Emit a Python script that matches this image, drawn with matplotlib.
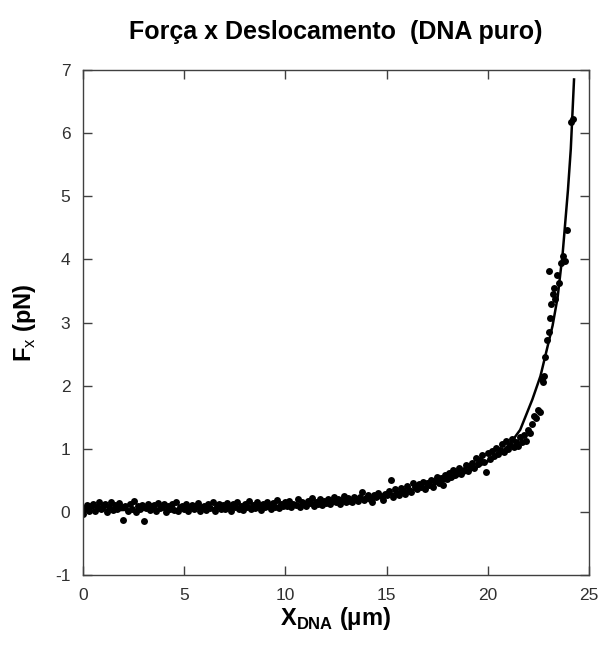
import matplotlib
matplotlib.use("Agg")
import matplotlib.pyplot as plt

plt.rcParams['font.family'] = ['Liberation Sans', 'DejaVu Sans']
plt.rcParams['mathtext.fontset'] = 'custom'
plt.rcParams['mathtext.rm'] = 'Liberation Sans'
plt.rcParams['mathtext.bf'] = 'Liberation Sans:bold'
plt.rcParams['axes.unicode_minus'] = False

# pontos medidos (deslocamento em um, forca em pN)
x_base = [0.00, 0.10, 0.20, 0.30, 0.40, 0.50, 0.60, 0.70, 0.80, 0.90,
          1.00, 1.10, 1.20, 1.30, 1.40, 1.50, 1.60, 1.70, 1.80, 1.90,
          2.00, 2.10, 2.20, 2.30, 2.40, 2.50, 2.60, 2.70, 2.80, 2.90,
          3.00, 3.10, 3.20, 3.30, 3.40, 3.50, 3.60, 3.70, 3.80, 3.90,
          4.00, 4.10, 4.20, 4.30, 4.40, 4.50, 4.60, 4.70, 4.80, 4.90,
          5.00, 5.10, 5.20, 5.30, 5.40, 5.50, 5.60, 5.70, 5.80, 5.90]
y_base = [-0.03, 0.06, 0.11, 0.02, 0.09, 0.13, 0.01, 0.07, 0.15, 0.04,
          0.10, 0.12, 0.00, 0.08, 0.16, 0.03, 0.11, 0.05, 0.14, 0.07,
          -0.13, 0.09, 0.02, 0.12, 0.05, 0.17, 0.00, 0.10, 0.04, 0.11,
          -0.15, 0.06, 0.13, 0.03, 0.09, 0.11, 0.02, 0.14, 0.06, 0.08,
          0.12, 0.00, 0.09, 0.05, 0.12, 0.03, 0.15, 0.02, 0.08, 0.10,
          0.05, 0.13, 0.01, 0.07, 0.11, 0.04, 0.09, 0.14, 0.02, 0.08]

x_mid = [6.00, 6.10, 6.20, 6.30, 6.40, 6.50, 6.60, 6.70, 6.80, 6.90,
         7.00, 7.10, 7.20, 7.30, 7.40, 7.50, 7.60, 7.70, 7.80, 7.90,
         8.00, 8.10, 8.20, 8.30, 8.40, 8.50, 8.60, 8.70, 8.80, 8.90,
         9.00, 9.10, 9.20, 9.30, 9.40, 9.50, 9.60, 9.70, 9.80, 9.90,
         10.00, 10.10, 10.20, 10.30, 10.40, 10.50, 10.60, 10.70, 10.80, 10.90,
         11.00, 11.10, 11.20, 11.30, 11.40, 11.50, 11.60, 11.70, 11.80, 11.90]
y_mid = [0.10, 0.03, 0.12, 0.06, 0.15, 0.01, 0.09, 0.13, 0.05, 0.11,
         0.04, 0.14, 0.08, 0.02, 0.12, 0.07, 0.16, 0.05, 0.10, 0.03,
         0.13, 0.08, 0.17, 0.04, 0.11, 0.06, 0.15, 0.09, 0.03, 0.13,
         0.07, 0.16, 0.10, 0.05, 0.14, 0.08, 0.19, 0.06, 0.12, 0.10,
         0.15, 0.09, 0.18, 0.07, 0.13, 0.11, 0.20, 0.08, 0.16, 0.12,
         0.10, 0.18, 0.14, 0.22, 0.09, 0.16, 0.13, 0.20, 0.11, 0.17]

x_rise = [12.00, 12.10, 12.20, 12.30, 12.40, 12.50, 12.60, 12.70, 12.80, 12.90,
          13.00, 13.10, 13.20, 13.30, 13.40, 13.50, 13.60, 13.70, 13.80, 13.90,
          14.00, 14.10, 14.20, 14.30, 14.40, 14.50, 14.60, 14.70, 14.80, 14.90,
          15.00, 15.10, 15.20, 15.30, 15.40, 15.50, 15.60, 15.70, 15.80, 15.90,
          16.00, 16.10, 16.20, 16.30, 16.40, 16.50, 16.60, 16.70, 16.80, 16.90,
          17.00, 17.10, 17.20, 17.30, 17.40, 17.50, 17.60, 17.70, 17.80, 17.90]
y_rise = [0.14, 0.20, 0.12, 0.18, 0.23, 0.15, 0.21, 0.13, 0.19, 0.25,
          0.16, 0.22, 0.18, 0.15, 0.24, 0.20, 0.17, 0.23, 0.32, 0.19,
          0.22, 0.27, 0.21, 0.16, 0.26, 0.23, 0.30, 0.25, 0.19, 0.29,
          0.27, 0.33, 0.50, 0.24, 0.36, 0.30, 0.27, 0.38, 0.33, 0.29,
          0.41, 0.35, 0.32, 0.46, 0.39, 0.36, 0.44, 0.40, 0.48, 0.37,
          0.45, 0.43, 0.51, 0.40, 0.49, 0.55, 0.46, 0.53, 0.42, 0.58]

x_knee = [18.00, 18.10, 18.20, 18.30, 18.40, 18.50, 18.60, 18.70, 18.80, 18.90,
          19.00, 19.10, 19.20, 19.30, 19.40, 19.50, 19.60, 19.70, 19.80, 19.90,
          20.00, 20.10, 20.20, 20.30, 20.40, 20.50, 20.60, 20.70, 20.80, 20.90,
          21.00, 21.10, 21.20, 21.30, 21.40]
y_knee = [0.52, 0.61, 0.55, 0.66, 0.58, 0.63, 0.70, 0.60, 0.67, 0.74,
          0.65, 0.72, 0.78, 0.69, 0.85, 0.76, 0.82, 0.90, 0.79, 0.63,
          0.93, 0.84, 0.97, 0.89, 1.02, 0.92, 0.98, 1.08, 0.95, 1.12,
          1.00, 1.06, 1.15, 1.03, 1.10]

x_steep = [21.50, 21.60, 21.70, 21.80, 21.90, 22.00, 22.10, 22.20, 22.30, 22.40,
           22.50, 22.60, 22.70, 22.75, 22.80, 22.85, 22.90, 23.00, 23.00, 23.05,
           23.10, 23.20, 23.25, 23.30, 23.40, 23.50, 23.60, 23.70, 23.80, 23.90,
           24.10, 24.20]
y_steep = [1.05, 1.18, 1.10, 1.22, 1.12, 1.30, 1.25, 1.40, 1.52, 1.48,
           1.62, 1.58, 2.10, 2.05, 2.15, 2.45, 2.72, 2.85, 3.82, 3.07,
           3.30, 3.45, 3.55, 3.38, 3.75, 3.62, 3.94, 4.05, 3.98, 4.47,
           6.18, 6.22]

# curva ajustada
x_fit = [0.0, 4.0, 8.0, 11.0, 13.0, 15.0, 16.5, 18.0, 19.0, 20.0, 20.6,
         21.1, 21.6, 22.2, 22.6, 22.9, 23.2, 23.45, 23.7, 23.96, 24.1, 24.26]
y_fit = [0.02, 0.04, 0.07, 0.12, 0.18, 0.27, 0.36, 0.50, 0.63, 0.80, 0.93,
         1.08, 1.30, 1.78, 2.15, 2.55, 2.95, 3.40, 4.10, 5.10, 5.75, 6.85]

x_pts = x_base + x_mid + x_rise + x_knee + x_steep
y_pts = y_base + y_mid + y_rise + y_knee + y_steep

fig = plt.figure(figsize=(6.03, 6.53), dpi=100)
ax = fig.add_axes([0.1376, 0.1194, 0.8392, 0.7734])

ax.plot(x_pts, y_pts, 'o', color='black', markersize=5.0, markeredgewidth=0)
ax.plot(x_fit, y_fit, '-', color='black', linewidth=1.8)

ax.set_xlim(0, 25)
ax.set_ylim(-1, 7)
ax.set_xticks([0, 5, 10, 15, 20, 25])
ax.set_yticks(range(-1, 8))

for s in ax.spines.values():
    s.set_color('#404040')
    s.set_linewidth(1.0)
ax.tick_params(direction='in', length=6.5, width=1.0, color='#404040',
               top=True, right=True, labelsize=12.5, labelcolor='#303030', pad=9)

ax.set_xlabel(r'X$_{\mathbf{DNA}}$ (μm)', fontsize=17, fontweight='bold', labelpad=2)
ax.set_ylabel(r'F$_{\mathrm{x}}$ (pN)', fontsize=17, fontweight='bold', labelpad=12)
ax.set_title('Força x Deslocamento  (DNA puro)', fontsize=18, fontweight='bold', pad=22)

fig.savefig('out.png', dpi=100)
